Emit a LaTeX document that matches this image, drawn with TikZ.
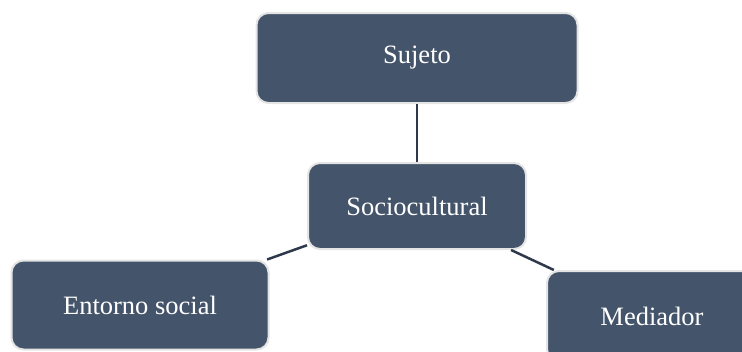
\documentclass[tikz,border=0pt]{standalone}
\usepackage{fontspec}
\setmainfont{Liberation Serif}
\usepackage{xcolor}
\definecolor{pizarra}{HTML}{44546A}
\definecolor{borde}{HTML}{E4E4E4}
\definecolor{linea}{HTML}{2E3A4B}

\begin{document}
\begin{tikzpicture}[x=1pt, y=-1pt, font=\fontsize{26.5}{31}\selectfont,
   caja/.style={rectangle, rounded corners=12pt, fill=pizarra, draw=borde, line width=2pt, text=white, inner sep=0pt}]
      \clip (0,0) rectangle (742,351);
      \node[caja, name=suj, minimum width=321pt, minimum height=90pt] at (417,58) {Sujeto};
      \node[caja, name=soc, minimum width=218pt, minimum height=86pt] at (417,206) {Sociocultural};
      \node[caja, name=ent, minimum width=257pt, minimum height=89pt] at (140,305) {Entorno social};
      \node[caja, name=med, minimum width=210pt, minimum height=90pt] at (652,316) {Mediador};

      \path[-, draw=linea, line width=2.5pt]
         (suj) edge (soc)
         (soc) edge (ent)
         (soc) edge (med);
   \end{tikzpicture}
\end{document}
